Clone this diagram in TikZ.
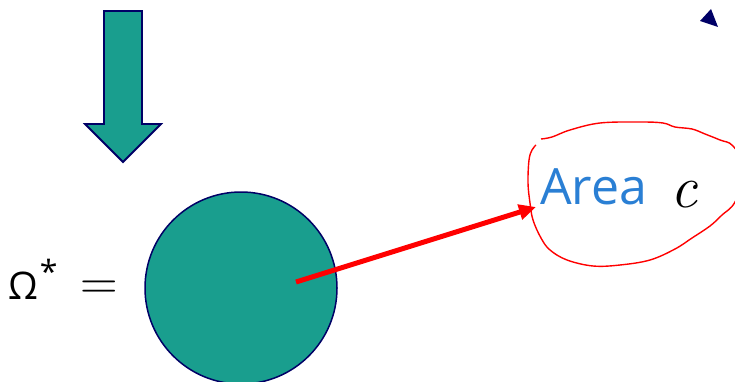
\documentclass[tikz,border=0pt]{standalone}
\usepackage{fontspec}
\newfontfamily\opensans{Open Sans}
\usepackage{tikz}
\usetikzlibrary{arrows.meta,positioning}
\definecolor{omTeal}{HTML}{199E8E}
\definecolor{omNavy}{HTML}{000066}
\definecolor{omBlue}{HTML}{2A7FD4}
\definecolor{omRed}{HTML}{FF0000}

\begin{document}
\begin{tikzpicture}[x=1pt,y=-1pt,
  region/.style={circle,draw=omNavy,line width=1.5pt,fill=omTeal,minimum size=192pt,inner sep=0pt},
  bigarrow/.style={draw=omNavy,line width=1.8pt,fill=omTeal,line join=miter},
  lbl/.style={inner sep=0pt,anchor=base west},
  pointer/.style={draw=omRed,line width=5pt,-{Triangle[length=17pt,width=15pt]}},
  loop/.style={draw=omRed,line width=1.4pt}]
\useasboundingbox (0,0) rectangle (735,382);
\clip (0,0) rectangle (735,382);

\draw[bigarrow] (104,11) -- (142,11) -- (142,124) -- (161,124) -- (123,162)
  -- (85,124) -- (104,124) -- cycle;
\fill[omNavy] (700,21) -- (711,9) -- (718,27) -- cycle;

\node[region] (omega) at (241,288) {};
\node[lbl] (omsym) at (8,299) {\fontsize{38}{42}\selectfont\opensans Ω\hspace{0.05em}\raisebox{0.42em}{\fontsize{32}{34}\selectfont *}};
\node[lbl] (eqsign) at (80,299) {\fontsize{52}{54}\selectfont =};

\node[lbl] (area) at (540,204) {\fontsize{50}{52}\selectfont\opensans\color{omBlue}Area};
\node[lbl] (cvar) at (670,207) {\fontsize{60}{62}\selectfont\itshape c};

\coordinate (src) at (296,282);
\coordinate (tip) at (536,207);
\draw[pointer] (src) -- (tip);

% hand-drawn loop round the label
\draw[loop] plot[smooth,tension=0.6] coordinates {(541,139) (552,137) (570,130)
  (600,123) (640,122) (663,123) (675,127) (692,129) (705,134) (720,140) (733,146)
  (746,170) (735,202) (722,215) (710,226) (692,238) (675,249) (650,260) (620,265)
  (593,266) (567,260) (550,250) (541,238) (533,220) (530,203) (528,183) (529,160)
  (532,150) (536,145)};
\end{tikzpicture}
\end{document}
